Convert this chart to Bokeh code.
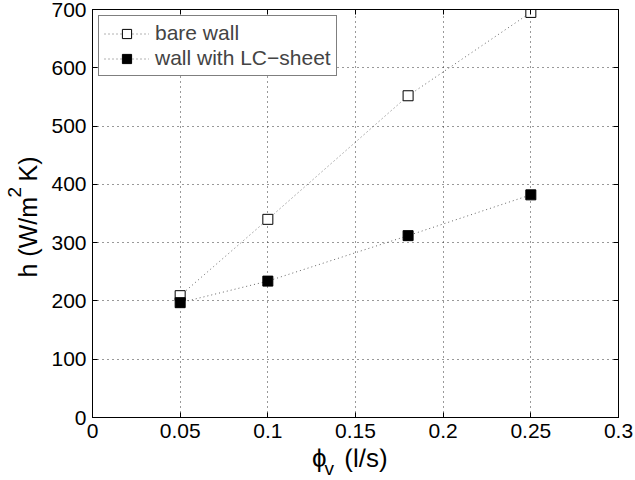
import math
from bokeh.plotting import figure
from bokeh.layouts import row, column
from bokeh.models import LinearAxis, Range1d, FixedTicker, Label
from bokeh.embed import file_html
from bokeh.resources import INLINE

flow = [0.05, 0.1, 0.18, 0.25]
bare = [209, 340, 552, 695]
lc = [197, 234, 312, 382]
xticks = [0, 0.05, 0.1, 0.15, 0.2, 0.25, 0.3]
yticks = [0, 100, 200, 300, 400, 500, 600, 700]

FONT = "Liberation Sans"
TICK_FS = "21px"
LEG_FS = "21px"
YPANEL = 48

p = figure(width=635 - YPANEL, height=448, output_backend="svg", toolbar_location=None,
           x_range=Range1d(0, 0.3), y_range=Range1d(0, 700),
           min_border_left=91 - YPANEL, min_border_right=17, min_border_top=9, min_border_bottom=31)
p.outline_line_color = "black"
p.outline_line_width = 1

p.line(flow, bare, line_dash="1 3", line_color="#666666", line_width=1, legend_label="bare wall")
p.scatter(flow, bare, marker="square", size=10, fill_color="white", line_color="black",
          line_width=1, legend_label="bare wall")
p.line(flow, lc, line_dash="1 3", line_color="#666666", line_width=1, legend_label="wall with LC\u2212sheet")
p.scatter(flow, lc, marker="square", size=10, fill_color="black", line_color="black",
          line_width=1, legend_label="wall with LC\u2212sheet")

for ax in (p.xaxis[0], p.yaxis[0]):
    ax.major_tick_in = 5
    ax.major_tick_out = 0
    ax.minor_tick_line_color = None
    ax.major_label_text_font = FONT
    ax.major_label_text_font_size = TICK_FS
    ax.major_label_text_color = "black"
    ax.axis_line_color = "black"
    ax.major_tick_line_color = "black"

p.xaxis[0].ticker = FixedTicker(ticks=xticks)
p.yaxis[0].ticker = FixedTicker(ticks=yticks)
p.xaxis[0].major_label_overrides = {0: "0", 0.3: "0.3"}
p.xaxis[0].major_label_standoff = 6
p.yaxis[0].major_label_standoff = 6

for loc, tick in (("right", yticks), ("above", xticks)):
    ax = LinearAxis(ticker=FixedTicker(ticks=tick), major_tick_in=5, major_tick_out=0,
                    minor_tick_line_color=None, major_label_text_color=None,
                    major_label_text_font_size="0px", major_label_standoff=0,
                    axis_line_color="black")
    p.add_layout(ax, loc)

p.xgrid.ticker = FixedTicker(ticks=xticks)
p.ygrid.ticker = FixedTicker(ticks=yticks)
for g in (p.xgrid[0], p.ygrid[0]):
    g.grid_line_color = "#333333"
    g.grid_line_dash = "1 4"
    g.grid_line_width = 1

lg = p.legend[0]
lg.location = "top_left"
lg.border_line_color = "black"
lg.border_line_width = 1
lg.label_text_font = FONT
lg.label_text_font_size = LEG_FS
lg.margin = 6
lg.padding = 5
lg.spacing = 1
lg.label_height = 23
lg.glyph_height = 23
lg.glyph_width = 45
lg.label_standoff = 6
lg.background_fill_alpha = 1


def blank(w, h, xr, yr):
    f = figure(width=w, height=h, output_backend="svg", toolbar_location=None,
               x_range=Range1d(*xr), y_range=Range1d(*yr),
               x_axis_type=None, y_axis_type=None,
               min_border=0, min_border_left=0, min_border_right=0,
               min_border_top=0, min_border_bottom=0)
    f.outline_line_color = None
    return f


def lab(f, text, x, y, size, angle=0.0):
    f.add_layout(Label(x=x, y=y, text=text, text_font=FONT, text_font_size=f"{size}px",
                       text_color="black", text_baseline="alphabetic", text_align="left",
                       angle=angle))


# y-axis title panel (coordinates = page pixels)
yf = blank(YPANEL, 480, (0, YPANEL), (480, 0))
A = math.pi / 2
lab(yf, "h (W/m", 27.5, 277, 25, A)
lab(yf, "2", 13.5, 197, 19, A)
lab(yf, "K)", 27.5, 181, 25, A)

# x-axis title panel (coordinates = page pixels)
xf = blank(635 - YPANEL, 32, (YPANEL, 635), (480, 448))
lab(xf, "\u03d5", 293, 457, 26)
lab(xf, "v", 307, 468, 19)
lab(xf, "(l/s)", 329, 457, 26)

layout = row(yf, column(p, xf, spacing=0), spacing=0)
open("out.html", "w").write(file_html(layout, INLINE))
